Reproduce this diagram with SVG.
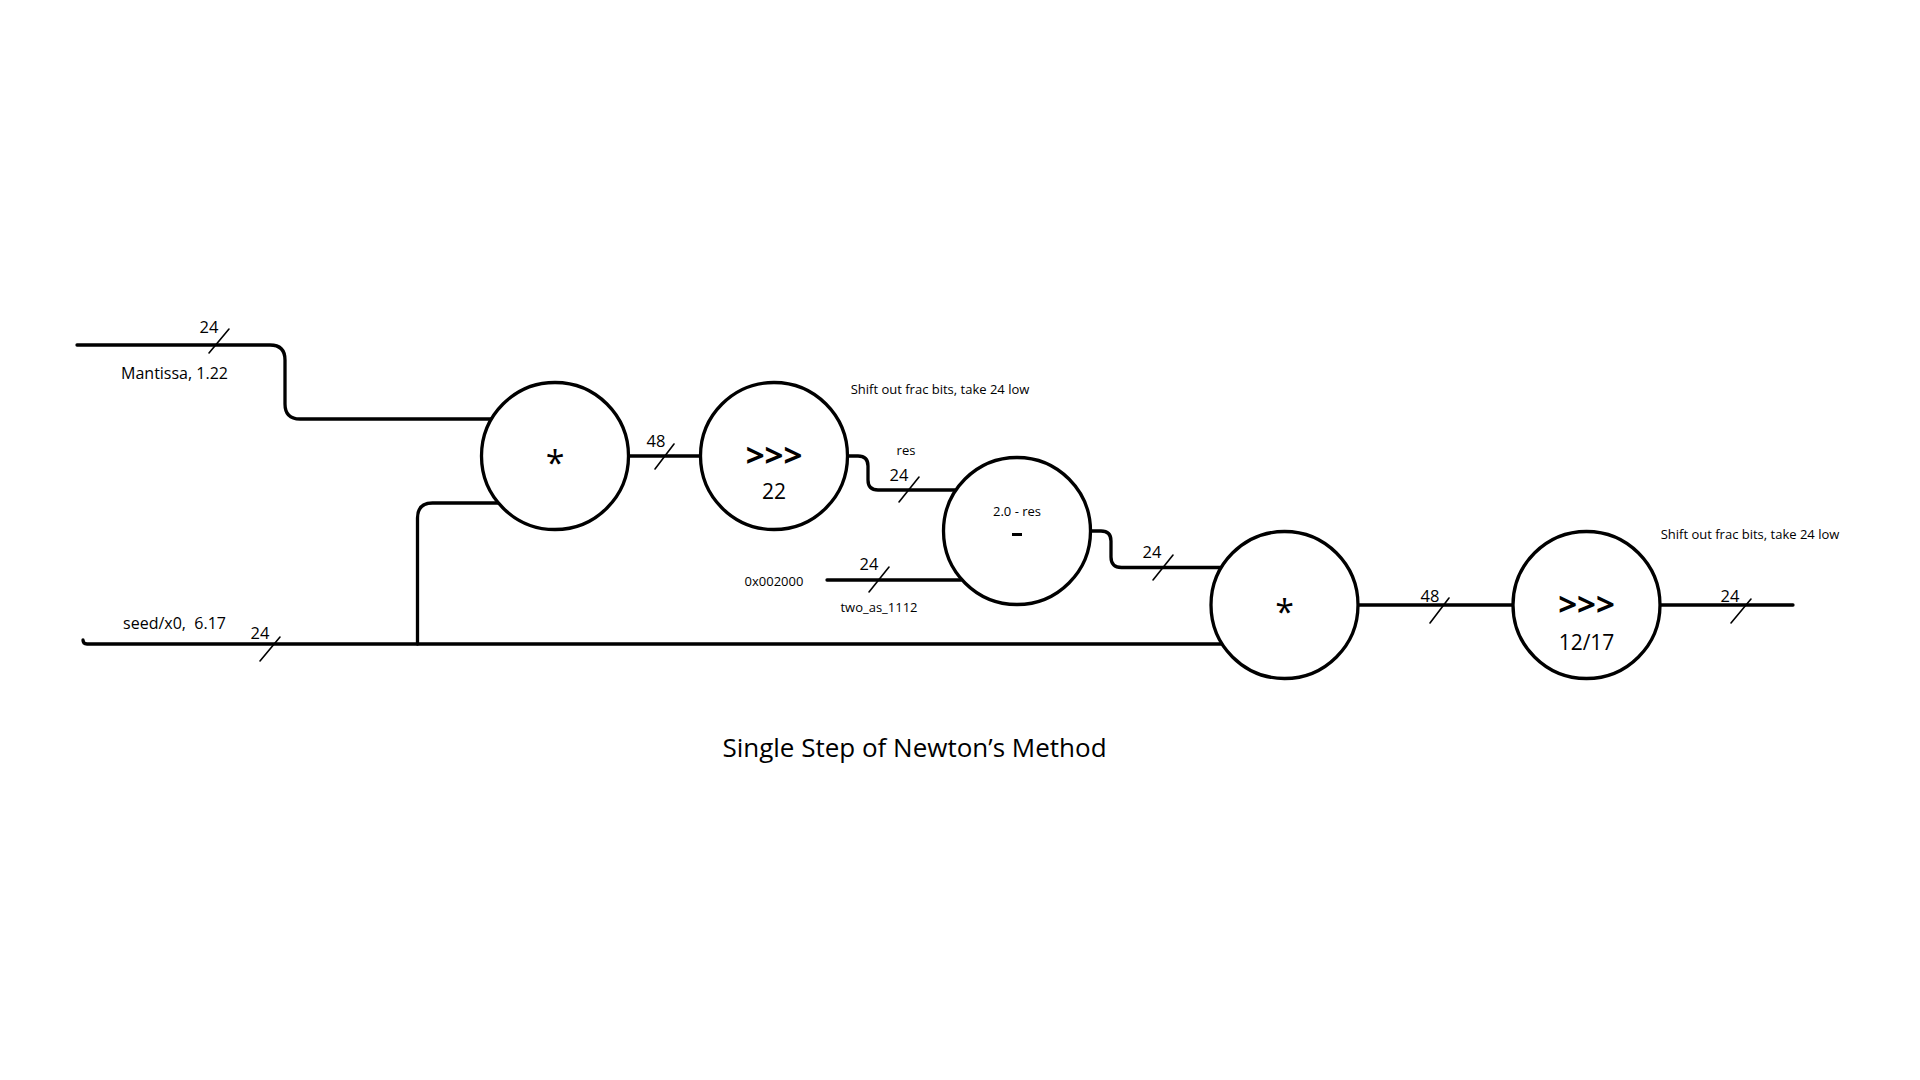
<svg xmlns="http://www.w3.org/2000/svg" width="1920" height="1080" viewBox="0 0 1920 1080">
<style>
.w{fill:none;stroke:#000;stroke-width:3.3;stroke-linecap:round;stroke-linejoin:round}
.s{fill:none;stroke:#000;stroke-width:1.6;stroke-linecap:round}
.n{fill:#fff;stroke:#000;stroke-width:3.3}
text{font-family:"Open Sans","Liberation Sans",sans-serif;fill:#000;text-anchor:middle}
.b{font-size:16px}
.l{font-size:16.5px}
.m{font-size:13px}
.op{font-size:34px}
.sh{font-size:33px;font-weight:700}
.amt{font-size:21px}
</style>
<rect width="1920" height="1080" fill="#fff"/>
<g id="connectors">
<path class="w" d="M77 345 H270 Q285 345 285 360 V404 Q285 419 300 419 H492"/>
<path class="w" d="M83 640 Q83 644 87 644 H1222"/>
<path class="w" d="M417.5 644 V518 Q417.5 503 432.5 503 H499"/>
<path class="w" d="M628 456 H701"/>
<path class="w" d="M847 456 H858 Q868 456 868 466 V480 Q868 490 878 490 H955"/>
<path class="w" d="M827 580 H961"/>
<path class="w" d="M1090 531 H1101 Q1111 531 1111 541 V557 Q1111 567.5 1121.5 567.5 H1221"/>
<path class="w" d="M1358 605 H1513"/>
<path class="w" d="M1660 605 H1793"/>
<path class="s" d="M209 353 L229 329"/>
<path class="s" d="M260 661 L280 637"/>
<path class="s" d="M655 469 L674 444"/>
<path class="s" d="M899 502 L919 477"/>
<path class="s" d="M869 592 L889 567"/>
<path class="s" d="M1153 580 L1173 555"/>
<path class="s" d="M1430 623 L1449 598"/>
<path class="s" d="M1731 623 L1751 599"/>
<text class="l" x="209" y="333">24</text>
<text class="l" x="260" y="639">24</text>
<text class="l" x="656" y="447">48</text>
<text class="l" x="899" y="481">24</text>
<text class="l" x="869" y="570">24</text>
<text class="l" x="1152" y="558">24</text>
<text class="l" x="1430" y="602">48</text>
<text class="l" x="1730" y="602">24</text>
</g>
<g id="labels">
<text class="b" x="174.5" y="378.5">Mantissa, 1.22</text>
<text class="b" x="174.5" y="629" xml:space="preserve">seed/x0,  6.17</text>
<text class="m" x="940" y="394">Shift out frac bits, take 24 low</text>
<text class="m" x="906" y="455">res</text>
<text class="m" x="774" y="586">0x002000</text>
<text class="m" x="879" y="612">two_as_1112</text>
<text class="m" x="1750" y="539">Shift out frac bits, take 24 low</text>
<text x="914.5" y="757" style="font-size:26px">Single Step of Newton’s Method</text>
</g>
<g id="mul1">
<circle class="n" cx="555" cy="456" r="73.5"/>
<text class="op" x="555" y="475">*</text>
</g>
<g id="shr1">
<circle class="n" cx="774" cy="456" r="73.5"/>
<text class="sh" x="774" y="467">&gt;&gt;&gt;</text>
<text class="amt" x="774" y="499">22</text>
</g>
<g id="sub">
<circle class="n" cx="1017" cy="531" r="73.5"/>
<text class="m" x="1017" y="516">2.0 - res</text>
<rect x="1012" y="533" width="10" height="3"/>
</g>
<g id="mul2">
<circle class="n" cx="1284.5" cy="605" r="73.5"/>
<text class="op" x="1284.5" y="624">*</text>
</g>
<g id="shr2">
<circle class="n" cx="1586.5" cy="605" r="73.5"/>
<text class="sh" x="1586.5" y="616">&gt;&gt;&gt;</text>
<text class="amt" x="1586.5" y="650">12/17</text>
</g>
</svg>
